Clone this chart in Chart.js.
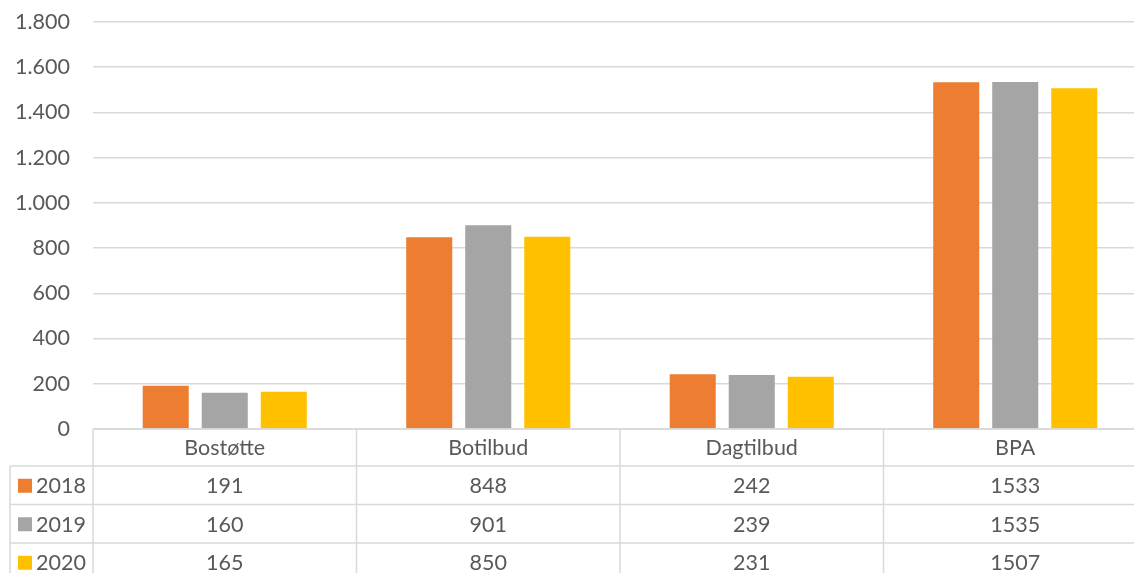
<!DOCTYPE html>
<html>
<head>
<meta charset="utf-8">
<script src="https://cdn.jsdelivr.net/npm/chart.js@4/dist/chart.umd.min.js"></script>
<style>
html,body{margin:0;padding:0;background:#fff;overflow:hidden;}
#wrap{width:1160px;height:573px;}
</style>
</head>
<body>
<div id="wrap"><canvas id="c" width="1160" height="573"></canvas></div>
<script>
const categories = ['Bostøtte', 'Botilbud', 'Dagtilbud', 'BPA'];
const seriesNames = ['2018', '2019', '2020'];
const values2018 = [191, 848, 242, 1533];
const values2019 = [160, 901, 239, 1535];
const values2020 = [165, 850, 231, 1507];
const seriesColors = ['#ED7D31', '#A5A5A5', '#FFC000'];
const yMin = 0, yMax = 1800, yStep = 200;

const FONT = 'Lato, "Open Sans", sans-serif';
const FSIZE = 21.5;
const TEXT = '#595959';
const GRID = '#D9D9D9';

function fmt(v){ return String(v).replace(/\B(?=(\d{3})+(?!\d))/g, '.'); }

const tablePlugin = {
  id: 'dataTable',
  afterDraw(chart){
    const ctx = chart.ctx;
    const area = chart.chartArea;
    const xs = chart.scales.x;
    const n = categories.length;
    const cw = (area.right - area.left) / n;
    const top = area.bottom;
    const headerH = 37, rowH = 38.5;
    const leftX = 10;
    const rows = chart.data.datasets.length;
    const bottom = top + headerH + rowH * rows + 20;
    ctx.save();
    ctx.strokeStyle = GRID;
    ctx.lineWidth = 1.5;
    ctx.beginPath();
    ctx.moveTo(area.left, top); ctx.lineTo(area.right, top); ctx.stroke();
    for (let r = 0; r < rows; r++) {
      const y = top + headerH + r * rowH;
      ctx.beginPath(); ctx.moveTo(leftX, y); ctx.lineTo(area.right, y); ctx.stroke();
    }
    for (let i = 0; i <= n; i++) {
      const x = area.left + i * cw;
      ctx.beginPath(); ctx.moveTo(x, top); ctx.lineTo(x, bottom); ctx.stroke();
    }
    ctx.beginPath(); ctx.moveTo(leftX, top + headerH); ctx.lineTo(leftX, bottom); ctx.stroke();

    ctx.fillStyle = TEXT;
    ctx.font = FSIZE + 'px ' + FONT;
    ctx.textAlign = 'center';
    ctx.textBaseline = 'middle';
    categories.forEach((c, i) => {
      ctx.fillText(c, xs.getPixelForValue(i), top + headerH / 2 + 1);
    });
    chart.data.datasets.forEach((ds, r) => {
      const yc = top + headerH + r * rowH + rowH / 2 + 1;
      ctx.textAlign = 'center';
      ctx.fillStyle = TEXT;
      ds.data.forEach((v, i) => {
        ctx.fillText(String(v), xs.getPixelForValue(i), yc);
      });
      ctx.fillStyle = ds.backgroundColor;
      ctx.fillRect(18, yc - 7.5, 14, 14);
      ctx.fillStyle = TEXT;
      ctx.textAlign = 'left';
      ctx.fillText(ds.label, 36, yc);
    });
    ctx.restore();
  }
};

const seriesValues = [values2018, values2019, values2020];
new Chart(document.getElementById('c'), {
  type: 'bar',
  data: {
    labels: categories,
    datasets: seriesNames.map((name, i) => ({
      label: name,
      data: seriesValues[i],
      backgroundColor: seriesColors[i],
      borderWidth: 0,
      categoryPercentage: 0.672,
      barPercentage: 0.78
    }))
  },
  options: {
    responsive: false,
    animation: false,
    devicePixelRatio: 1,
    layout: { padding: { top: 22, bottom: 144, left: 0, right: 13 } },
    plugins: { legend: { display: false }, tooltip: { enabled: false } },
    scales: {
      x: { display: false },
      y: {
        min: yMin, max: yMax,
        afterFit(s){ s.width = 93; s.paddingTop = 0; s.paddingBottom = 0; },
        ticks: { stepSize: yStep, padding: 23, color: TEXT, font: { family: FONT, size: FSIZE }, callback: v => fmt(v) },
        grid: { color: GRID, lineWidth: 1.5, drawTicks: false },
        border: { display: false }
      }
    }
  },
  plugins: [tablePlugin]
});
</script>
</body>
</html>
